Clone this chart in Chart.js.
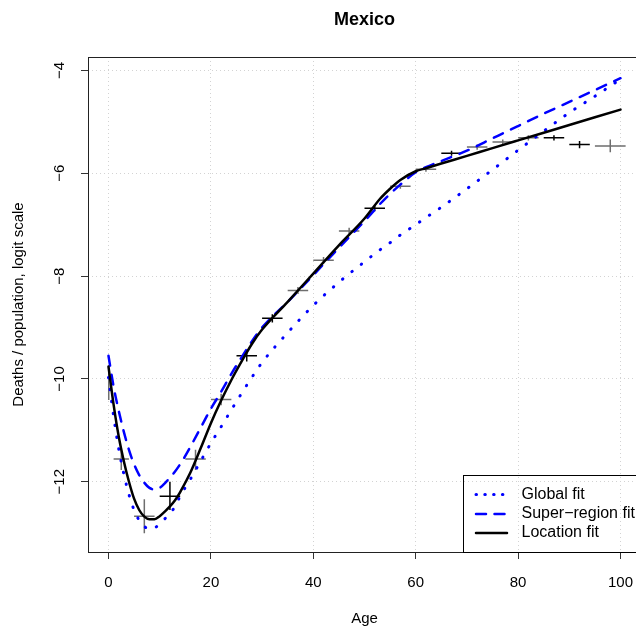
<!DOCTYPE html>
<html>
<head>
<meta charset="utf-8">
<script src="https://cdn.jsdelivr.net/npm/chart.js@4.4.1/dist/chart.umd.min.js"></script>
<style>
  html, body { margin: 0; padding: 0; background: #fff; overflow: hidden; }
  #wrap { width: 636px; height: 633px; overflow: hidden; }
</style>
</head>
<body>
<div id="wrap"><canvas id="myChart" width="642" height="633"></canvas></div>
<script>
// titulos
var chartTitle = 'Mexico';
var xTitle = 'Age';
var yTitle = 'Deaths / population, logit scale';

// ticks dos eixos
var xTicks = [0, 20, 40, 60, 80, 100];
var yTicks = [-12, -10, -8, -6, -4];

// idades onde as curvas ajustadas foram lidas
var fitAges = [0, 1, 2, 3, 4, 5, 6, 7, 8, 9, 10, 11, 12, 13, 14, 16, 18, 20, 22, 24,
               26, 28, 30, 35, 40, 45, 50, 53, 55, 57, 60, 62, 65, 70, 75, 80, 85, 90, 95, 100];

var globalFit = [-9.97, -10.72, -11.36, -11.85, -12.25, -12.55, -12.75, -12.87, -12.92, -12.9,
                 -12.82, -12.72, -12.62, -12.48, -12.28, -11.95, -11.6, -11.25, -10.93, -10.6,
                 -10.28, -9.97, -9.68, -9.1, -8.57, -8.12, -7.72, -7.49, -7.35, -7.2,
                 -7.0, -6.86, -6.66, -6.3, -5.93, -5.55, -5.18, -4.82, -4.5, -4.17];

var superRegionFit = [-9.55, -10.15, -10.62, -11.03, -11.38, -11.66, -11.87, -12.02, -12.12, -12.15,
                      -12.12, -12.03, -11.92, -11.8, -11.66, -11.32, -10.95, -10.58, -10.25, -9.9,
                      -9.58, -9.27, -9.0, -8.5, -7.98, -7.45, -6.93, -6.6, -6.4, -6.22,
                      -5.98, -5.88, -5.76, -5.56, -5.32, -5.08, -4.84, -4.61, -4.38, -4.15];

var locationFit = [-9.76, -10.5, -11.12, -11.6, -12.0, -12.33, -12.55, -12.68, -12.73, -12.73,
                   -12.67, -12.58, -12.48, -12.36, -12.2, -11.82, -11.35, -10.86, -10.42, -10.02,
                   -9.66, -9.32, -9.04, -8.5, -7.95, -7.4, -6.88, -6.5, -6.3, -6.13,
                   -5.96, -5.9, -5.81, -5.66, -5.51, -5.36, -5.21, -5.06, -4.91, -4.76];

// dados observados por grupo etario
var ageStart = [0, 1, 5, 10, 15, 20, 25, 30, 35, 40, 45, 50, 55, 60, 65, 70, 75, 80, 85, 90, 95];
var ageEnd   = [0.1, 4, 9, 14, 19, 24, 29, 34, 39, 44, 49, 54, 59, 64, 69, 74, 79, 84, 89, 94, 101];
var obsValue = [-10.08, -11.56, -12.67, -12.28, -11.56, -10.4, -9.55, -8.82, -8.28, -7.69, -7.12,
                -6.68, -6.25, -5.92, -5.61, -5.49, -5.39, -5.31, -5.31, -5.44, -5.47];
var obsLower = [-10.41, -11.77, -13.0, -12.55, -11.77, -10.51, -9.66, -8.9, -8.35, -7.75, -7.18,
                -6.74, -6.3, -5.97, -5.66, -5.54, -5.44, -5.36, -5.36, -5.51, -5.59];
var obsUpper = [-9.75, -11.34, -12.34, -12.0, -11.38, -10.29, -9.44, -8.74, -8.21, -7.63, -7.06,
                -6.62, -6.2, -5.87, -5.56, -5.44, -5.34, -5.26, -5.26, -5.37, -5.34];
// 1 = fonte principal (preto), 2 = outra fonte (cinza)
var obsGroup = [2, 2, 2, 1, 2, 2, 1, 1, 2, 2, 2, 1, 2, 2, 1, 2, 2, 2, 1, 1, 2];

var fontFamily = '"Liberation Sans", Arial, Helvetica, sans-serif';

function curve(values){
    var pts = [];
    for (var i = 0; i < fitAges.length; i++) {
        pts.push({x: fitAges[i], y: values[i]});
    }
    return pts;
}

// cada cruz: segmento horizontal (faixa etaria) + segmento vertical (incerteza)
function crosses(group){
    var pts = [];
    for (var i = 0; i < obsValue.length; i++) {
        if (obsGroup[i] !== group) continue;
        var mid = (ageStart[i] + ageEnd[i]) / 2;
        pts.push({x: ageStart[i], y: obsValue[i]});
        pts.push({x: ageEnd[i], y: obsValue[i]});
        pts.push({x: null, y: null});
        pts.push({x: mid, y: obsLower[i]});
        pts.push({x: mid, y: obsUpper[i]});
        pts.push({x: null, y: null});
    }
    return pts;
}

var boxPlugin = {
    id: 'boxPlugin',
    afterDraw: function(chart){
        var ctx = chart.ctx;
        var a = chart.chartArea;
        ctx.save();
        // moldura
        ctx.strokeStyle = '#222';
        ctx.lineWidth = 1;
        ctx.setLineDash([]);
        ctx.strokeRect(a.left + 0.5, a.top + 0.5, a.right - a.left, a.bottom - a.top);
        // titulo
        ctx.fillStyle = '#000';
        ctx.font = 'bold 18px ' + fontFamily;
        ctx.textAlign = 'center';
        ctx.textBaseline = 'middle';
        ctx.fillText(chartTitle, (a.left + a.right) / 2, 20);
        // legenda
        var lx = Math.round(a.right - 178.5);
        var ly = Math.round(a.bottom - 77);
        ctx.strokeStyle = '#000';
        ctx.strokeRect(lx + 0.5, ly + 0.5, a.right - lx, a.bottom - ly);
        ctx.font = '16px ' + fontFamily;
        ctx.textAlign = 'left';
        var rows = [19.5, 39, 58];
        for (var i = 0; i < 3; i++) {
            var ds = chart.data.datasets[i];
            var y = ly + rows[i];
            ctx.beginPath();
            ctx.strokeStyle = ds.borderColor;
            ctx.lineWidth = ds.borderWidth;
            ctx.lineCap = ds.borderCapStyle;
            ctx.setLineDash(ds.legendDash);
            ctx.moveTo(lx + 13, y);
            ctx.lineTo(lx + 44, y);
            ctx.stroke();
            ctx.setLineDash([]);
            ctx.fillStyle = '#000';
            ctx.fillText(ds.label, lx + 58.5, y);
        }
        ctx.restore();
    }
};

var myChart = new Chart(document.getElementById('myChart').getContext('2d'), {
    type: 'line',
    data: {
        datasets: [{
            label: 'Global fit',
            data: curve(globalFit),
            borderColor: '#0000ff',
            borderWidth: 3,
            borderDash: [0.5, 11.5],
            legendDash: [0.5, 8.3],
            borderCapStyle: 'round',
            pointRadius: 0,
            cubicInterpolationMode: 'monotone',
            order: 3
        }, {
            label: 'Super\u2212region fit',
            data: curve(superRegionFit),
            borderColor: '#0000ff',
            borderWidth: 2.5,
            borderDash: [10, 9],
            legendDash: [10, 8.5],
            borderCapStyle: 'round',
            pointRadius: 0,
            cubicInterpolationMode: 'monotone',
            order: 2
        }, {
            label: 'Location fit',
            data: curve(locationFit),
            borderColor: '#000000',
            borderWidth: 2.5,
            borderDash: [],
            legendDash: [],
            borderCapStyle: 'round',
            pointRadius: 0,
            cubicInterpolationMode: 'monotone',
            order: 1
        }, {
            label: 'obs dark',
            data: crosses(1),
            borderColor: '#000000',
            borderWidth: 1.5,
            pointRadius: 0,
            tension: 0,
            spanGaps: false,
            order: 4
        }, {
            label: 'obs light',
            data: crosses(2),
            borderColor: '#6e6e6e',
            borderWidth: 1.5,
            pointRadius: 0,
            tension: 0,
            spanGaps: false,
            order: 5
        }]
    },
    options: {
        responsive: false,
        animation: false,
        devicePixelRatio: 1,
        layout: { padding: { top: 57, right: 1, left: 0, bottom: 0 } },
        plugins: {
            legend: { display: false },
            tooltip: { enabled: false },
            title: { display: false }
        },
        scales: {
            x: {
                type: 'linear',
                min: -4,
                max: 104,
                afterBuildTicks: function(s){ s.ticks = xTicks.map(function(v){ return {value: v}; }); },
                afterFit: function(s){ s.height = 81; s.paddingLeft = 0; s.paddingRight = 0; },
                grid: { color: '#d3d3d3', lineWidth: 1, drawTicks: true, tickLength: 7, tickColor: '#333', tickWidth: 1 },
                border: { display: false, dash: [1, 3] },
                ticks: { color: '#000', font: { family: fontFamily, size: 15 }, padding: 15, maxRotation: 0, autoSkip: false },
                title: { display: true, text: xTitle, color: '#000', font: { family: fontFamily, size: 15 }, padding: { top: 0, bottom: 5 } }
            },
            y: {
                type: 'linear',
                min: -13.367,
                max: -3.737,
                afterBuildTicks: function(s){ s.ticks = yTicks.map(function(v){ return {value: v}; }); },
                afterFit: function(s){ s.width = 88; s.paddingTop = 0; s.paddingBottom = 0; },
                grid: { color: '#d3d3d3', lineWidth: 1, drawTicks: true, tickLength: 7, tickColor: '#333', tickWidth: 1 },
                border: { display: false, dash: [1, 3] },
                ticks: {
                    color: '#000', font: { family: fontFamily, size: 15 }, padding: 8,
                    minRotation: 90, maxRotation: 90, crossAlign: 'center', autoSkip: false,
                    callback: function(v){ return String(v).replace('-', '\u2212'); }
                },
                title: { display: true, text: yTitle, color: '#000', font: { family: fontFamily, size: 15 }, padding: { top: 10, bottom: 0 } }
            }
        }
    },
    plugins: [boxPlugin]
});
</script>
</body>
</html>
